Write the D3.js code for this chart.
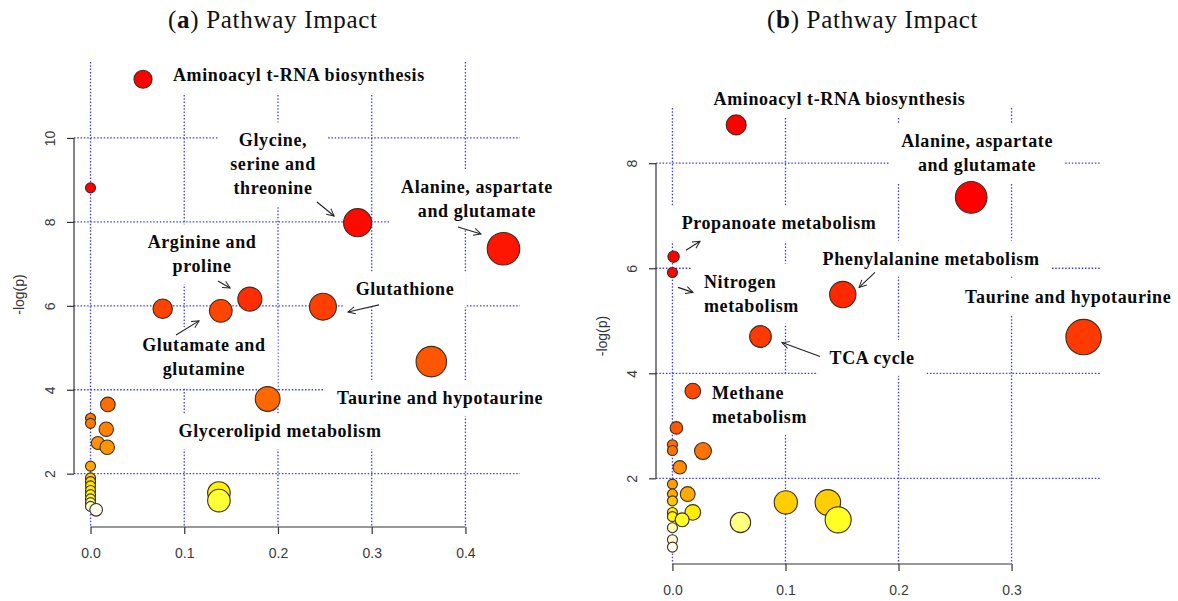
<!DOCTYPE html>
<html>
<head>
<meta charset="utf-8">
<script src="https://cdn.jsdelivr.net/npm/d3@7"></script>
<style>
body { margin:0; background:#fff; }
</style>
</head>
<body>
<svg id="chart" width="1178" height="601"></svg>
<script>
// ---- panel (a) : pathway impact vs -log(p)
var impactA = [0.056, 0.0, 0.285, 0.4406, 0.170, 0.248, 0.077, 0.139, 0.3636, 0.189,
               0.0185, 0.0, 0.0, 0.0168, 0.0078, 0.0178, 0.0, 0.0, 0.0, 0.0,
               0.0, 0.0, 0.0, 0.0, 0.137, 0.137, 0.0, 0.006];
var logpA   = [11.4, 8.81, 7.98, 7.36, 6.16, 5.98, 5.93, 5.88, 4.67, 3.78,
               3.65, 3.32, 3.20, 3.06, 2.73, 2.63, 2.18, 1.90, 1.81, 1.71,
               1.60, 1.50, 1.40, 1.31, 1.54, 1.36, 1.22, 1.14];
var xTicksA = [0, 0.1, 0.2, 0.3, 0.4];
var yTicksA = [2, 4, 6, 8, 10];

// ---- panel (b)
var impactB = [0.0564, 0.2643, 0.001, 0.0, 0.1507, 0.0779, 0.3637, 0.018, 0.0035, 0.0,
               0.0, 0.027, 0.0065, 0.0, 0.0135, 0.0, 0.0, 0.1003, 0.1375, 0.0,
               0.018, 0.0, 0.0086, 0.1466, 0.0602, 0.0, 0.0, 0.0];
var logpB   = [8.73, 7.35, 6.22, 5.92, 5.50, 4.70, 4.69, 3.66, 2.96, 2.64,
               2.53, 2.52, 2.21, 1.89, 1.70, 1.70, 1.57, 1.54, 1.54, 1.35,
               1.35, 1.27, 1.21, 1.21, 1.16, 1.06, 0.83, 0.69];
var xTicksB = [0, 0.1, 0.2, 0.3];
var yTicksB = [2, 4, 6, 8];

// annotations, placed in data units (x = impact, y = -log p of first line centre)
var labelsA = [
  {lines:["Aminoacyl t-RNA biosynthesis"], x:0.088, y:11.5, anchor:"start"},
  {lines:["Glycine,", "serine and", "threonine"], x:0.1947, y:9.95},
  {lines:["Alanine, aspartate", "and glutamate"], x:0.4123, y:8.83},
  {lines:["Arginine and", "proline"], x:0.119, y:7.52},
  {lines:["Glutamate and", "glutamine"], x:0.121, y:5.07},
  {lines:["Glutathione"], x:0.3355, y:6.40},
  {lines:["Taurine and hypotaurine"], x:0.373, y:3.81},
  {lines:["Glycerolipid metabolism"], x:0.2022, y:3.02}
];
var arrowsA = [
  [0.2416, 8.475, 0.2599, 8.141],
  [0.392, 7.88, 0.4166, 7.713],
  [0.136, 6.594, 0.1489, 6.427],
  [0.0912, 5.307, 0.1158, 5.641],
  [0.3078, 6.022, 0.2747, 5.855]
];
var labelsB = [
  {lines:["Aminoacyl t-RNA biosynthesis"], x:0.1478, y:9.225},
  {lines:["Alanine, aspartate", "and glutamate"], x:0.2695, y:8.423},
  {lines:["Propanoate metabolism"], x:0.0943, y:6.858},
  {lines:["Phenylalanine metabolism"], x:0.2288, y:6.19},
  {lines:["Nitrogen", "metabolism"], x:0.0279, y:5.751, anchor:"start"},
  {lines:["TCA cycle"], x:0.1766, y:4.30},
  {lines:["Taurine and hypotaurine"], x:0.3501, y:5.464},
  {lines:["Methane", "metabolism"], x:0.035, y:3.632, anchor:"start"}
];
var arrowsB = [
  [0.0120, 6.343, 0.0244, 6.514],
  [0.1792, 5.923, 0.1651, 5.636],
  [0.0049, 5.636, 0.0182, 5.541],
  [0.1306, 4.319, 0.0969, 4.586]
];

var svg = d3.select("#chart");

svg.append("defs").append("marker")
    .attr("id", "arrowhead")
    .attr("viewBox", "0 0 10 10")
    .attr("refX", 9).attr("refY", 5)
    .attr("markerWidth", 9).attr("markerHeight", 9)
    .attr("markerUnits", "userSpaceOnUse")
    .attr("orient", "auto")
  .append("path")
    .attr("d", "M1,1 L9,5 L1,9")
    .attr("fill", "none")
    .attr("stroke", "#222")
    .attr("stroke-width", 1.1);

// R-style 4% extension of the data range
function padRange(vals) {
    var e = d3.extent(vals), d = (e[1] - e[0]) * 0.04;
    return [e[0] - d, e[1] + d];
}

function drawPanel(cfg) {
    var x = d3.scaleLinear().domain(padRange(cfg.impact)).range([cfg.left, cfg.right]);
    var y = d3.scaleLinear().domain(padRange(cfg.logp)).range([cfg.bottom, cfg.top]);
    var r = d3.scalePow().exponent(0.5).domain([0, cfg.rMax[0]]).range([5, cfg.rMax[1]]);
    var col = d3.scaleLinear().domain(cfg.colStops).range(cfg.colRange).clamp(true);

    var g = svg.append("g");
    var gridG = g.append("g"), boxG = g.append("g"), dotG = g.append("g"),
        textG = g.append("g"), arrG = g.append("g");

    // dotted blue grid
    gridG.selectAll("line.v").data(cfg.xTicks).enter().append("line")
        .attr("x1", function(d){ return x(d); }).attr("x2", function(d){ return x(d); })
        .attr("y1", cfg.top).attr("y2", cfg.bottom);
    gridG.selectAll("line.h").data(cfg.yTicks).enter().append("line")
        .attr("x1", cfg.left).attr("x2", cfg.right)
        .attr("y1", function(d){ return y(d); }).attr("y2", function(d){ return y(d); });
    gridG.selectAll("line")
        .attr("stroke", "#3a3aff").attr("stroke-width", 1.3)
        .attr("stroke-dasharray", "1.5,1.8");

    // axes
    var xa = g.append("g").attr("transform", "translate(0," + cfg.bottom + ")")
        .call(d3.axisBottom(x).tickValues(cfg.xTicks).tickSize(7).tickPadding(14)
              .tickFormat(d3.format(".1f")));
    xa.select(".domain").remove();
    xa.append("line").attr("x1", x(cfg.xTicks[0])).attr("x2", x(cfg.xTicks[cfg.xTicks.length-1]))
        .attr("stroke", "#333").attr("stroke-width", 1.2);

    var ya = g.append("g").attr("transform", "translate(" + cfg.left + ",0)")
        .call(d3.axisLeft(y).tickValues(cfg.yTicks).tickSize(7));
    ya.select(".domain").remove();
    ya.append("line").attr("y1", y(cfg.yTicks[0])).attr("y2", y(cfg.yTicks[cfg.yTicks.length-1]))
        .attr("stroke", "#333").attr("stroke-width", 1.2);
    ya.selectAll(".tick text")
        .attr("x", 0).attr("dy", "0.35em")
        .attr("text-anchor", "middle")
        .attr("transform", "translate(-24,0) rotate(-90)");

    g.selectAll(".tick line").attr("stroke", "#333").attr("stroke-width", 1.2);
    g.selectAll(".tick text")
        .style("font-family", "'Liberation Sans', Arial, sans-serif")
        .style("font-size", "14px").attr("fill", "#3a3a3a");

    g.append("text")
        .attr("transform", "translate(" + cfg.ylabX + "," + ((cfg.top + cfg.bottom) / 2) + ") rotate(-90)")
        .attr("text-anchor", "middle").attr("dy", "0.35em")
        .style("font-family", "'Liberation Sans', Arial, sans-serif")
        .style("font-size", "14px").attr("fill", "#333")
        .text("-log(p)");

    // bubbles
    dotG.selectAll("circle").data(d3.range(cfg.impact.length)).enter().append("circle")
        .attr("cx", function(i){ return x(cfg.impact[i]); })
        .attr("cy", function(i){ return y(cfg.logp[i]); })
        .attr("r", function(i){ return r(cfg.impact[i]); })
        .attr("fill", function(i){ return col(cfg.logp[i]); })
        .attr("stroke", "#3e2c22").attr("stroke-width", 1.1);

    // labels with white boxes hiding the grid
    cfg.labels.forEach(function(l) {
        var t = textG.append("text")
            .attr("text-anchor", l.anchor || "middle")
            .style("font-family", "'Liberation Serif', 'Times New Roman', serif")
            .style("font-weight", "bold").style("font-size", "18px")
            .style("letter-spacing", "0.6px")
            .attr("fill", "#0a0a0a");
        l.lines.forEach(function(s, k) {
            t.append("tspan").attr("x", x(l.x)).attr("y", y(l.y) + k * 24)
                .attr("dy", "0.35em").text(s);
        });
        var b = t.node().getBBox();
        boxG.append("rect")
            .attr("x", b.x - 12).attr("y", b.y - 8)
            .attr("width", b.width + 24).attr("height", b.height + 16)
            .attr("fill", "#fff");
    });

    arrG.selectAll("line").data(cfg.arrows).enter().append("line")
        .attr("x1", function(a){ return x(a[0]); }).attr("y1", function(a){ return y(a[1]); })
        .attr("x2", function(a){ return x(a[2]); }).attr("y2", function(a){ return y(a[3]); })
        .attr("stroke", "#222").attr("stroke-width", 1.1)
        .attr("marker-end", "url(#arrowhead)");

    // title
    var ti = svg.append("text").attr("x", cfg.titleX).attr("y", 28)
        .style("font-family", "'Liberation Serif', 'Times New Roman', serif")
        .style("font-size", "25px").style("letter-spacing", "0.7px").attr("fill", "#111");
    ti.append("tspan").text("(");
    ti.append("tspan").style("font-weight", "bold").text(cfg.tag);
    ti.append("tspan").text(") Pathway Impact");
}

drawPanel({
    impact: impactA, logp: logpA, xTicks: xTicksA, yTicks: yTicksA,
    left: 74, right: 520, top: 62, bottom: 527, ylabX: 19,
    rMax: [0.45, 16.4],
    colStops: [1.14, 1.25, 1.4, 1.6, 1.9, 2.2, 2.7, 3.1, 3.7, 4.7, 5.9, 6.2, 7.4, 8.5],
    colRange: ["#fffff0", "#ffffc8", "#ffff00", "#ffee00", "#ffcc00", "#ffa500", "#ff9300",
               "#ff8000", "#ff6a00", "#ff5500", "#ff4500", "#ff2a00", "#ff1500", "#ff0000"],
    labels: labelsA, arrows: arrowsA, titleX: 168, tag: "a"
});

drawPanel({
    impact: impactB, logp: logpB, xTicks: xTicksB, yTicks: yTicksB,
    left: 656, right: 1100, top: 108, bottom: 564, ylabX: 602,
    rMax: [0.37, 17.8],
    colStops: [0.69, 1.06, 1.16, 1.22, 1.35, 1.55, 1.7, 1.9, 2.2, 2.6, 3.0, 3.7, 4.7, 5.5, 6.0],
    colRange: ["#fffff0", "#ffffb4", "#ffff80", "#ffff10", "#ffee00", "#ffcc00", "#ffaa00",
               "#ffa000", "#ff8c00", "#ff6e00", "#ff5500", "#ff4800", "#ff3a00", "#ff2800", "#ff0000"],
    labels: labelsB, arrows: arrowsB, titleX: 767, tag: "b"
});
</script>
</body>
</html>
